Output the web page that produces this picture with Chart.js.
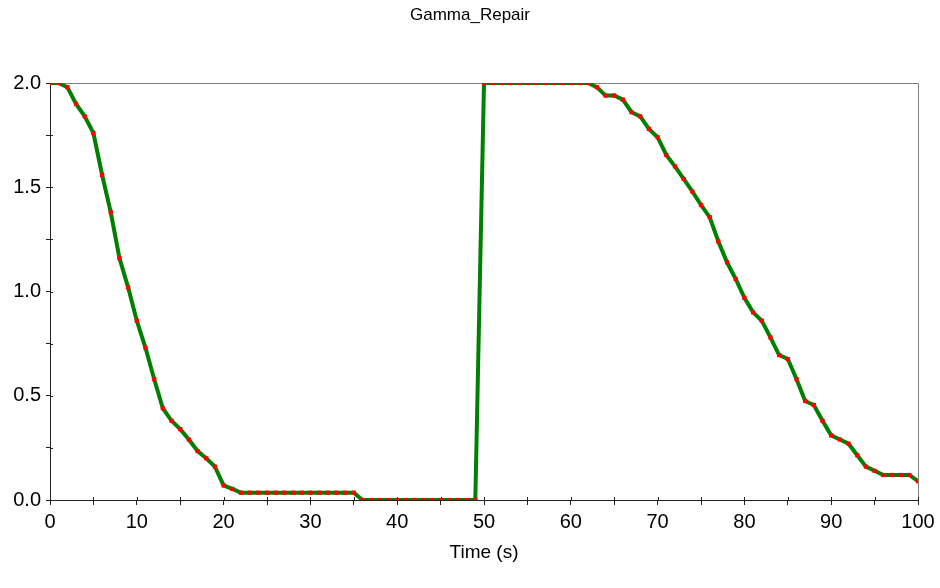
<!DOCTYPE html>
<html><head><meta charset="utf-8">
<script src="https://cdn.jsdelivr.net/npm/chart.js@4/dist/chart.umd.min.js"></script>
<style>html,body{margin:0;padding:0;background:#fff}</style>
</head><body>
<canvas id="c" width="940" height="588"></canvas>
<script>
const chartTitle = 'Gamma_Repair';
const xAxisTitle = 'Time (s)';
const timeSeconds = [
  0,1,2,3,4,5,6,7,8,9,10,11,12,13,14,15,16,17,18,19,20,
  21,22,23,24,25,26,27,28,29,30,31,32,33,34,35,36,37,38,39,40,
  41,42,43,44,45,46,47,48,49,50,51,52,53,54,55,56,57,58,59,60,
  61,62,63,64,65,66,67,68,69,70,71,72,73,74,75,76,77,78,79,80,
  81,82,83,84,85,86,87,88,89,90,91,92,93,94,95,96,97,98,99,100
];
const gammaRepair = [
  2.0,2.0,1.98,1.90,1.84,1.76,1.56,1.38,1.16,1.02,0.86,
  0.73,0.58,0.44,0.38,0.34,0.29,0.235,0.20,0.16,0.07,
  0.053,0.035,0.035,0.035,0.035,0.035,0.035,0.035,0.035,0.035,
  0.035,0.035,0.035,0.035,0.035,0,0,0,0,0,
  0,0,0,0,0,0,0,0,0,2.0,
  2.0,2.0,2.0,2.0,2.0,2.0,2.0,2.0,2.0,2.0,
  2.0,2.0,1.98,1.94,1.94,1.92,1.86,1.84,1.78,1.74,
  1.655,1.60,1.54,1.48,1.415,1.357,1.24,1.14,1.06,0.97,
  0.90,0.86,0.78,0.695,0.676,0.58,0.475,0.456,0.38,0.31,
  0.29,0.27,0.215,0.16,0.14,0.12,0.12,0.12,0.12,0.09
];
const xMajorStep = 10, xMinorStep = 5;
const yMajorStep = 0.5, yMinorStep = 0.25;
const FONT = 'Liberation Sans, Arial, sans-serif';

const frameAndInnerTicks = {
  id: 'frameAndInnerTicks',
  beforeDatasetsDraw(chart) {
    const {ctx, chartArea: a, scales: {x, y}} = chart;
    ctx.save();
    ctx.lineWidth = 1;
    ctx.strokeStyle = '#808080';
    ctx.beginPath();
    ctx.moveTo(a.left, Math.round(a.top) + 0.5);
    ctx.lineTo(Math.round(a.right) + 0.5, Math.round(a.top) + 0.5);
    ctx.lineTo(Math.round(a.right) + 0.5, a.bottom);
    ctx.stroke();
    ctx.strokeStyle = '#222';
    ctx.beginPath();
    x.ticks.forEach(t => {
      const px = Math.round(x.getPixelForValue(t.value)) + 0.5;
      ctx.moveTo(px, a.bottom); ctx.lineTo(px, a.bottom - 3);
    });
    y.ticks.forEach(t => {
      const py = Math.round(y.getPixelForValue(t.value)) + 0.5;
      ctx.moveTo(a.left, py); ctx.lineTo(a.left + 3, py);
    });
    ctx.stroke();
    ctx.restore();
  }
};

new Chart(document.getElementById('c'), {
  type: 'line',
  data: {
    labels: timeSeconds,
    datasets: [{
      data: timeSeconds.map((t, i) => ({x: t, y: gammaRepair[i]})),
      borderColor: '#008000',
      borderWidth: 4,
      pointStyle: 'rect',
      pointRadius: 3,
      pointBorderWidth: 0,
      pointBackgroundColor: '#ff0000',
      tension: 0,
      fill: false
    }]
  },
  options: {
    responsive: false,
    devicePixelRatio: 1,
    animation: false,
    layout: {padding: 0},
    plugins: {
      legend: {display: false},
      tooltip: {enabled: false},
      title: {
        display: true, text: chartTitle, color: '#000',
        font: {family: FONT, size: 17, weight: 'normal'},
        padding: {top: 5, bottom: 57.6}
      }
    },
    scales: {
      x: {
        type: 'linear', min: 0, max: 100,
        afterFit(s) { s.height = 88; },
        grid: {drawOnChartArea: false, drawTicks: true, tickLength: 5, color: '#222'},
        border: {display: true, color: '#222', width: 1},
        ticks: {
          stepSize: xMinorStep, autoSkip: false, maxRotation: 0, padding: 5, color: '#000',
          font: {family: FONT, size: 20},
          callback: v => (Math.abs(v % xMajorStep) < 1e-9 ? String(v) : '')
        },
        title: {
          display: true, text: xAxisTitle, color: '#000',
          font: {family: FONT, size: 19},
          padding: {top: 0, bottom: 24}
        }
      },
      y: {
        type: 'linear', min: 0, max: 2,
        afterFit(s) { s.width = 50; },
        grid: {drawOnChartArea: false, drawTicks: true, tickLength: 4, color: '#222'},
        border: {display: true, color: '#222', width: 1},
        ticks: {
          stepSize: yMinorStep, autoSkip: false, padding: 5, color: '#000',
          font: {family: FONT, size: 20},
          callback: v => {
            const r = v / yMajorStep;
            return Math.abs(r - Math.round(r)) < 1e-9 ? v.toFixed(1) : '';
          }
        }
      },
      ySpacer: {
        type: 'linear', position: 'right', min: 0, max: 2,
        afterFit(s) { s.width = 22; },
        grid: {display: false, drawTicks: false},
        border: {display: false},
        ticks: {display: false}
      }
    }
  },
  plugins: [frameAndInnerTicks]
});
</script>
</body></html>
